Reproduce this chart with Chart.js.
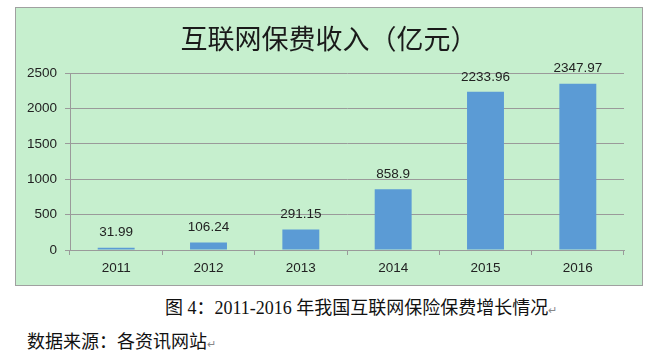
<!DOCTYPE html>
<html>
<head>
<meta charset="utf-8">
<script src="https://cdn.jsdelivr.net/npm/chart.js@4"></script>
<style>
  html, body { margin: 0; padding: 0; background: #fff; }
  body { width: 663px; height: 351px; position: relative; overflow: hidden; }
  #box {
    position: absolute; left: 15px; top: 7px; width: 628px; height: 279px;
    box-sizing: border-box; border: 1px solid #a0a0a0; background: #c6efce;
  }
  #box canvas { display: block; }
  .cap {
    position: absolute; white-space: nowrap; color: #111;
    font-family: "Liberation Serif", "Noto Sans CJK SC", serif; font-size: 18px;
  }
  .ret { font-size: 11px; color: #888; }
</style>
</head>
<body>
<div id="box"><canvas id="myChart" width="626" height="277"></canvas></div>
<div class="cap" style="left:165px; top:293px;">图 4：2011-2016 年我国互联网保险保费增长情况<span class="ret">↵</span></div>
<div class="cap" style="left:27px; top:327px;">数据来源：各资讯网站<span class="ret">↵</span></div>
<script>
const years = ['2011', '2012', '2013', '2014', '2015', '2016'];
const premiums = [31.99, 106.24, 291.15, 858.9, 2233.96, 2347.97];
const yTicks = [0, 500, 1000, 1500, 2000, 2500];

const gridGray = '#9a9a9a';
const labelFont = { family: '"Liberation Sans", Arial, sans-serif', size: 13.5 };

// values above each bar
const barLabels = {
    id: 'barLabels',
    afterDatasetsDraw(chart) {
        const ctx = chart.ctx;
        const meta = chart.getDatasetMeta(0);
        ctx.save();
        ctx.font = '13.5px "Liberation Sans", Arial, sans-serif';
        ctx.fillStyle = '#222';
        ctx.textAlign = 'center';
        ctx.textBaseline = 'middle';
        meta.data.forEach((bar, i) => {
            ctx.fillText(String(premiums[i]), bar.x, bar.y - 15);
        });
        ctx.restore();
    },
};

const ctx = document.getElementById('myChart').getContext('2d');

new Chart(ctx, {
    type: 'bar',
    data: {
        labels: years,
        datasets: [
            {
                label: '互联网保费收入',
                data: premiums,
                backgroundColor: '#5b9bd5',
                borderWidth: 0,
                barPercentage: 0.4,
                categoryPercentage: 1,
            },
        ],
    },
    options: {
        responsive: false,
        animation: false,
        devicePixelRatio: 1,
        layout: { padding: 0 },
        plugins: {
            legend: { display: false },
            tooltip: { enabled: false },
            title: {
                display: true,
                text: '互联网保费收入（亿元）',
                color: '#1a1a1a',
                font: { family: '"Noto Sans CJK SC", sans-serif', size: 27, weight: 'normal', lineHeight: 1.2 },
                padding: { top: 15, bottom: 17.6 },
            },
        },
        scales: {
            x: {
                grid: {
                    offset: true,
                    drawOnChartArea: false,
                    drawTicks: true,
                    tickLength: 5,
                    color: gridGray,
                },
                border: { display: true, color: gridGray },
                ticks: { color: '#222', font: labelFont, padding: 5, maxRotation: 0 },
                afterFit(scale) { scale.height = 35; },
            },
            y: {
                min: 0,
                max: 2500,
                afterBuildTicks(scale) { scale.ticks = yTicks.map(v => ({ value: v })); },
                grid: { color: gridGray, tickLength: 5 },
                border: { display: true, color: gridGray },
                ticks: {
                    color: '#222',
                    font: labelFont,
                    padding: 8,
                    callback: (value) => String(value),
                },
                afterFit(scale) { scale.width = 54; },
            },
            // empty right margin so the plot stops short of the frame
            gap: {
                position: 'right',
                min: 0,
                max: 2500,
                grid: { display: false },
                border: { display: false },
                ticks: { display: false },
                afterFit(scale) { scale.width = 18; },
            },
        },
    },
    plugins: [barLabels],
});
</script>
</body>
</html>
